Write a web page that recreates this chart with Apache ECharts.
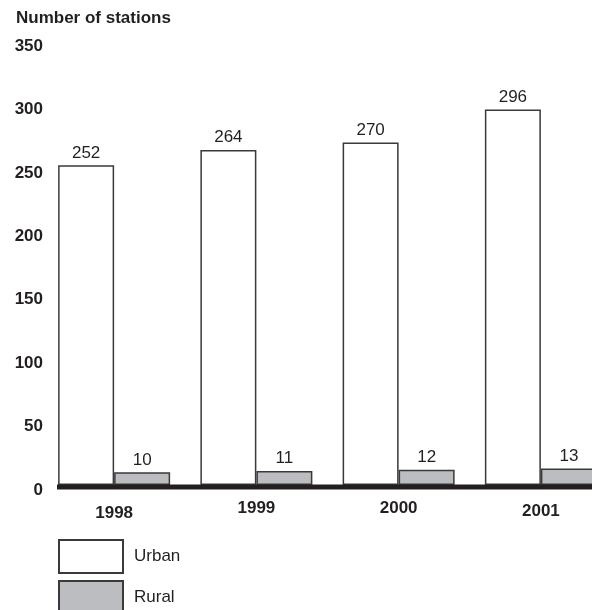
<!DOCTYPE html>
<html>
<head>
<meta charset="utf-8">
<script src="https://cdn.jsdelivr.net/npm/echarts@6/dist/echarts.min.js"></script>
<style>html,body{margin:0;padding:0;background:#fff;}#c{width:592px;height:610px;}</style>
</head>
<body>
<div id="c"></div>
<script>
const years = ['1998', '1999', '2000', '2001'];
const urban = [252, 264, 270, 296];
const rural = [10, 11, 12, 13];
const yTicks = [0, 50, 100, 150, 200, 250, 300, 350];
const labelShift = { '1998': 5, '1999': 0, '2000': 0, '2001': 3 };

const ink = '#231f20';
const font = 'Liberation Sans, Arial, Helvetica, sans-serif';
const chart = echarts.init(document.getElementById('c'), null, { renderer: 'canvas' });
const rich = {};
years.forEach((y, i) => {
  rich['y' + i] = { fontFamily: font, fontWeight: 'bold', fontSize: 17, color: ink, padding: [labelShift[y], 0, 0, 0] };
});
const legendText = { fontFamily: font, fontSize: 17, color: ink, padding: [0, 0, 0, 6] };
chart.setOption({
  animation: false,
  backgroundColor: '#fff',
  title: {
    text: 'Number of stations', left: 11, top: 5,
    textStyle: { fontFamily: font, fontWeight: 'bold', fontSize: 17, color: ink }
  },
  grid: { left: 43, width: 569, top: 41, bottom: 125, containLabel: false, outerBoundsMode: 'none' },
  legend: [
    { left: 53, top: 534, itemWidth: 64, itemHeight: 33, icon: 'rect', textStyle: legendText, data: ['Urban'] },
    { left: 53, top: 575, itemWidth: 64, itemHeight: 33, icon: 'rect', textStyle: legendText, data: ['Rural'] }
  ],
  xAxis: {
    type: 'category', data: years,
    axisLine: { show: false }, axisTick: { show: false },
    axisLabel: {
      margin: 15,
      formatter: (v) => '{y' + years.indexOf(v) + '|' + v + '}',
      rich: rich
    }
  },
  yAxis: {
    type: 'value', min: 0, max: 350, interval: 50,
    splitLine: { show: false }, axisLine: { show: false }, axisTick: { show: false },
    axisLabel: {
      margin: 0, color: ink,
      formatter: (v) => yTicks.includes(v) ? '{a|' + v + '}' : '',
      rich: { a: { fontFamily: font, fontWeight: 'bold', fontSize: 17, color: ink, padding: [10, 0, 0, 0] } }
    }
  },
  series: [
    {
      name: 'Urban', type: 'bar', data: urban, barWidth: 56, barGap: '0%',
      itemStyle: { color: '#ffffff', borderColor: '#3a3a3a', borderWidth: 1.5 },
      label: { show: true, position: 'top', distance: 4, fontFamily: font, fontSize: 17, color: ink }
    },
    {
      name: 'Rural', type: 'bar', data: rural, barWidth: 56,
      itemStyle: { color: '#bcbdc0', borderColor: '#3a3a3a', borderWidth: 1.5 },
      label: { show: true, position: 'top', distance: 4, fontFamily: font, fontSize: 17, color: ink }
    }
  ]
});
const y0 = chart.convertToPixel({ yAxisIndex: 0 }, 0);
chart.setOption({
  graphic: [{
    type: 'line', z: 100,
    shape: { x1: 57, y1: y0 + 2, x2: 592, y2: y0 + 2 },
    style: { stroke: ink, lineWidth: 5 }
  }]
});
</script>
</body>
</html>
